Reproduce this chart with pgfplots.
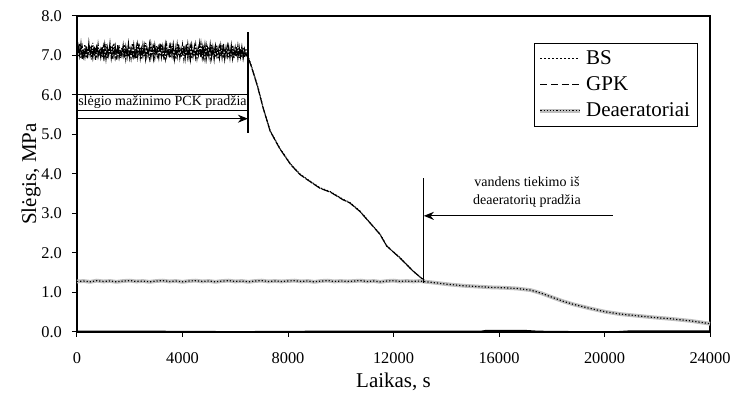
\documentclass[border=0pt]{standalone}
\usepackage{pgfplots}
\pgfplotsset{compat=1.18}
\usepackage{pgfplotstable}
\usetikzlibrary{arrows.meta}
\usepackage{fontspec}
\setmainfont{Liberation Serif}

\pgfplotstableread{
x bs gpk
0 7.26 6.94
50 6.96 7.22
100 7.30 7.00
150 6.92 7.29
200 7.21 6.91
250 6.99 7.17
300 7.28 6.97
350 6.94 7.25
400 7.18 6.93
450 7.01 7.31
500 7.24 7.02
550 6.90 7.19
600 7.32 6.95
650 6.97 7.24
700 7.20 6.89
750 6.93 7.28
800 7.27 6.98
850 7.00 7.16
900 7.15 6.96
950 6.95 7.23
1000 7.22 6.97
1050 6.98 7.26
1100 7.29 6.92
1150 6.93 7.20
1200 7.19 7.01
1250 7.02 7.30
1300 7.25 6.94
1350 6.91 7.18
1400 7.31 6.99
1450 6.96 7.22
1500 7.17 6.90
1550 6.99 7.27
1600 7.26 6.96
1650 6.94 7.15
1700 7.21 7.00
1750 7.01 7.25
1800 7.28 6.93
1850 6.92 7.21
1900 7.16 6.98
1950 6.97 7.29
2000 7.23 6.95
2050 6.95 7.18
2100 7.30 7.01
2150 6.99 7.26
2200 7.18 6.91
2250 6.93 7.22
2300 7.27 6.97
2350 7.00 7.30
2400 7.20 6.94
2450 6.90 7.17
2500 7.25 6.99
2550 6.96 7.24
2600 7.32 6.92
2650 6.98 7.20
2700 7.15 7.02
2750 6.94 7.28
2800 7.28 6.96
2850 7.01 7.19
2900 7.21 6.93
2950 6.95 7.25
3000 7.24 7.00
3050 6.92 7.16
3100 7.19 6.95
3150 6.99 7.31
3200 7.29 6.97
3250 6.96 7.21
3300 7.17 6.90
3350 6.93 7.26
3400 7.26 6.99
3450 7.00 7.18
3500 7.22 6.94
3550 6.94 7.23
3600 7.30 7.01
3650 6.97 7.27
3700 7.16 6.92
3750 6.91 7.20
3800 7.27 6.98
3850 6.99 7.29
3900 7.20 6.95
3950 6.95 7.17
4000 7.25 7.00
4050 6.93 7.24
4100 7.18 6.93
4150 7.00 7.28
4200 7.28 6.96
4250 6.96 7.19
4300 7.21 6.91
4350 6.92 7.25
4400 7.15 6.99
4450 6.98 7.22
4500 7.26 6.95
4550 6.94 7.16
4600 7.19 7.01
4650 7.01 7.30
4700 7.29 6.94
4750 6.95 7.21
4800 7.17 6.97
4850 6.92 7.26
4900 7.24 6.92
4950 6.97 7.18
5000 7.22 6.98
5050 6.93 7.27
5100 7.27 6.95
5150 6.99 7.20
5200 7.16 6.91
5250 6.95 7.23
5300 7.25 7.00
5350 6.91 7.17
5400 7.20 6.94
5450 6.98 7.24
5500 7.28 6.96
5550 6.94 7.29
5600 7.18 6.92
5650 7.00 7.19
5700 7.23 6.99
5750 6.93 7.22
5800 7.15 6.95
5850 6.96 7.25
5900 7.26 6.93
5950 6.92 7.16
6000 7.19 6.98
6050 6.97 7.23
6100 7.24 6.94
6150 6.94 7.20
6200 7.17 6.97
6250 6.96 7.21
6300 7.21 6.93
6350 6.95 7.15
6400 7.18 6.97
6450 7.00 7.05
6500 6.95 6.93
6600 6.76 6.74
6700 6.55 6.53
6860 6.20 6.18
7050 5.70 5.69
7320 5.10 5.09
7690 4.65 4.64
8100 4.25 4.24
8450 4.00 3.99
8700 3.88 3.87
9210 3.65 3.64
9610 3.55 3.54
10080 3.36 3.35
10340 3.28 3.27
10730 3.06 3.05
11100 2.77 2.77
11490 2.48 2.47
11740 2.18 2.18
12250 1.88 1.87
12730 1.55 1.55
13080 1.35 1.35
13250 1.27 1.27
13660 1.24 1.24
14170 1.20 1.20
14670 1.17 1.17
15180 1.15 1.15
15690 1.13 1.13
16190 1.12 1.12
16700 1.10 1.10
17200 1.06 1.06
17610 0.98 0.98
18010 0.88 0.88
18420 0.78 0.78
18820 0.70 0.70
19430 0.60 0.60
20040 0.51 0.51
20640 0.45 0.45
21250 0.41 0.41
21860 0.37 0.37
22570 0.33 0.33
23280 0.28 0.28
23800 0.23 0.23
24000 0.21 0.21
}\dataup

\pgfplotstableread{
x y
0 1.28
250 1.29
500 1.27
750 1.30
1000 1.28
1250 1.29
1500 1.27
1750 1.29
2000 1.30
2250 1.28
2500 1.29
2750 1.27
3000 1.29
3250 1.30
3500 1.28
3750 1.29
4000 1.27
4250 1.29
4500 1.30
4750 1.28
5000 1.29
5250 1.27
5500 1.29
5750 1.30
6000 1.28
6250 1.29
6500 1.27
6750 1.29
7000 1.30
7250 1.28
7500 1.29
7750 1.28
8000 1.29
8250 1.30
8500 1.28
8750 1.29
9000 1.27
9250 1.29
9500 1.30
9750 1.28
10000 1.29
10250 1.28
10500 1.29
10750 1.30
11000 1.28
11250 1.29
11500 1.27
11750 1.29
12000 1.30
12250 1.28
12500 1.29
12750 1.28
13000 1.29
13250 1.27
13660 1.24
13900 1.22
14170 1.20
14670 1.17
15180 1.15
15690 1.13
16190 1.12
16700 1.10
17200 1.06
17610 0.98
18010 0.88
18420 0.78
18820 0.70
19430 0.60
20040 0.51
20640 0.45
21250 0.41
21860 0.37
22570 0.33
23280 0.28
23800 0.23
24000 0.21
}\datadea

\pgfplotstableread{
x y
0 0.02
3000 0.02
6000 0.01
9000 0.02
12000 0.02
15300 0.02
15500 0.04
17000 0.04
17500 0.02
19000 0.01
20500 0.01
21000 0.03
24000 0.03
}\datazero

\begin{document}
\begin{tikzpicture}
\begin{axis}[
  scale only axis,
  width=316.5pt, height=158pt,
  xmin=0, xmax=24000, ymin=0, ymax=8,
  xtick={0,4000,8000,12000,16000,20000,24000},
  ytick={0,1,2,3,4,5,6,7,8},
  scaled x ticks=false,
  xticklabel style={/pgf/number format/1000 sep={}, yshift=-4.5pt},
  yticklabel style={/pgf/number format/fixed, /pgf/number format/fixed zerofill, /pgf/number format/precision=1, xshift=-1.5pt},
  /pgf/number format/assume math mode=true,
  tick label style={font=\fontsize{8.2}{9}\selectfont},
  label style={font=\fontsize{10.5}{12}\selectfont},
  xlabel={Laikas, s},
  ylabel={Slėgis, MPa},
  xlabel style={at={(axis description cs:0.5,-0.1772)}, anchor=base},
  ylabel style={at={(axis description cs:-0.0727,0.5)}, anchor=center, rotate=0},
  tick align=outside,
  tick pos=left,
  major tick length=2.5pt,
  axis line style={line width=0.6pt},
  every tick/.style={black, line width=0.5pt},
  legend style={at={(rel axis cs:0.722,0.915)}, anchor=north west, draw=black, line width=0.5pt,
    font=\fontsize{10.5}{11.5}\selectfont, cells={anchor=west}, row sep=0.5pt, inner sep=1.5pt,
    inner xsep=2pt},
  legend cell align=left,
  clip=false,
]
\addplot[black, line width=0.6pt, dash pattern=on 4pt off 0.8pt,
  legend image code/.code={\draw[black, line width=0.6pt, dash pattern=on 0.6pt off 1.4pt] (0cm,0cm) -- (0.7cm,0cm);}
  ] table[x=x, y=gpk] {\dataup};
\addlegendentry{BS}
\addplot[black, line width=0.6pt, densely dotted,
  legend image code/.code={\draw[black, line width=0.6pt, dash pattern=on 3.5pt off 1.8pt] (0cm,0cm) -- (0.7cm,0cm);}
  ] table[x=x, y=bs] {\dataup};
\addlegendentry{GPK}
\addplot[gray!50, line width=1.9pt,
  legend image code/.code={
    \draw[gray!50, line width=1.9pt] (0cm,0cm) -- (0.7cm,0cm);
    \draw[black, line width=0.6pt, densely dotted] (0cm,0cm) -- (0.7cm,0cm);
  }] table[x=x, y=y] {\datadea};
\addlegendentry{Deaeratoriai}
\addplot[black, line width=0.6pt, densely dotted, forget plot] table[x=x, y=y] {\datadea};
\addplot[black, line width=0.5pt, forget plot] table[x=x, y=y] {\datazero};

% annotations
\draw[black, line width=0.6pt] (axis cs:6480,5.05) -- (axis cs:6480,7.6);
\draw[black, line width=0.6pt, -{Stealth[length=5pt, width=4pt]}] (axis cs:0,5.4) -- (axis cs:6480,5.4);
\node[draw=black, line width=0.3pt, inner sep=0.8pt, font=\fontsize{7}{8}\selectfont, anchor=center]
  at (axis cs:3240,5.82) {slėgio mažinimo PCK pradžia};

\draw[black, line width=0.6pt] (axis cs:13150,1.25) -- (axis cs:13150,3.9);
\draw[black, line width=0.6pt, -{Stealth[length=5pt, width=4pt]}] (axis cs:20320,2.94) -- (axis cs:13150,2.94);
\node[align=center, font=\fontsize{7}{9}\selectfont, anchor=center]
  at (axis cs:17060,3.55) {vandens tiekimo iš\\deaeratorių pradžia};

\coordinate (SW) at (rel axis cs:0,0);
\coordinate (NE) at (rel axis cs:1,1);
\end{axis}
\pgfresetboundingbox
\path[use as bounding box] ([xshift=-38.5pt,yshift=-31pt]SW) rectangle ([xshift=11.5pt,yshift=8pt]NE);
\end{tikzpicture}
\end{document}
